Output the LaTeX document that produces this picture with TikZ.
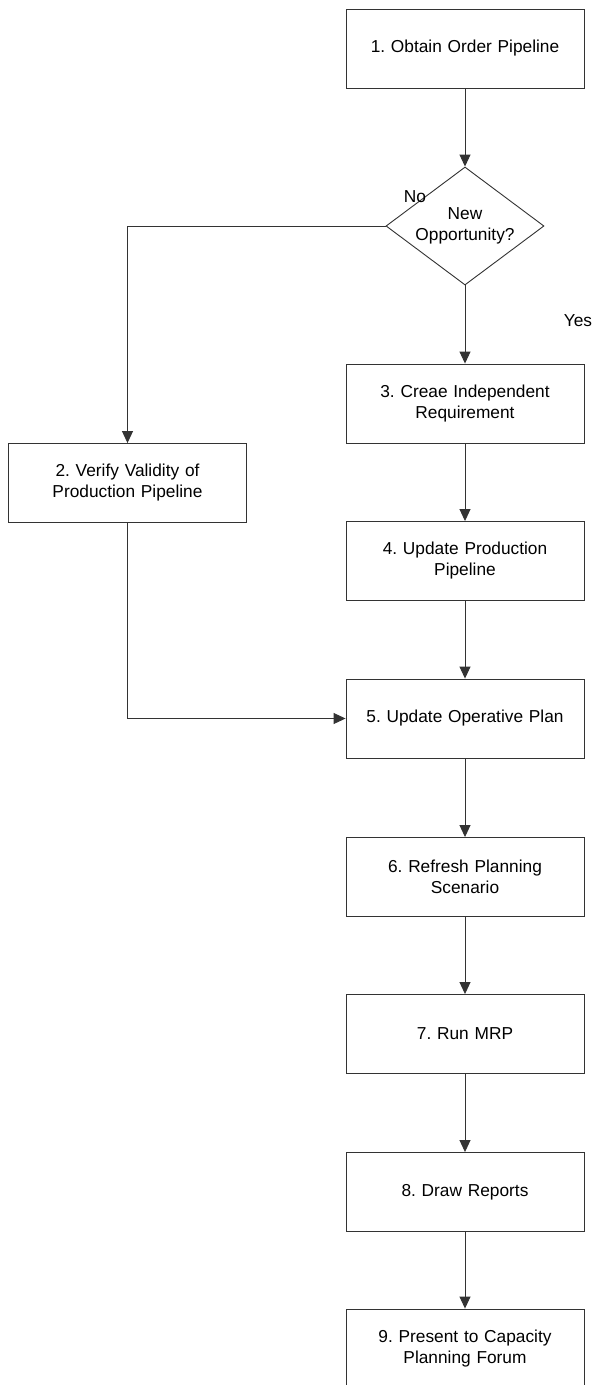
\documentclass[tikz,border=0pt]{standalone}
\usepackage{fontspec}
\setmainfont{Liberation Sans}
\usetikzlibrary{shapes.geometric,arrows.meta}
\frenchspacing
\begin{document}
\begin{tikzpicture}[x=1pt,y=-1pt,
  every node/.style={font=\fontsize{17.3}{21}\selectfont, text=black},
  stepbox/.style={draw=black!80, line width=0.9pt, fill=white,
    minimum width=238pt, minimum height=79pt, inner sep=0pt,
    align=center, text width=230pt},
  decision/.style={draw=black!80, line width=0.9pt, fill=white,
    shape=diamond, shape aspect=1.34, minimum width=158pt,
    minimum height=118pt, inner sep=0pt, align=center},
  link/.style={draw=black!80, line width=0.9pt},
  flow/.style={link, -{Triangle[width=11pt,length=12pt]}},
  tag/.style={inner sep=0pt}]
  \clip (0,0) rectangle (593,1385);
  \fill[white] (0,0) rectangle (593,1385);

  % process steps
  \node[stepbox] (b1) at (465,48.5)  {1. Obtain Order Pipeline};
  \node[decision] (d)  at (465,226)  {New\\Opportunity?};
  \node[stepbox] (b3) at (465,403.5) {3. Creae Independent\\Requirement};
  \node[stepbox] (b2) at (127.5,483) {2. Verify Validity of\\Production Pipeline};
  \node[stepbox] (b4) at (465,561)   {4. Update Production\\Pipeline};
  \node[stepbox] (b5) at (465,718.5) {5. Update Operative Plan};
  \node[stepbox] (b6) at (465,877)   {6. Refresh Planning\\Scenario};
  \node[stepbox] (b7) at (465,1034)  {7. Run MRP};
  \node[stepbox] (b8) at (465,1192)  {8. Draw Reports};
  \node[stepbox] (b9) at (465,1348.5){9. Present to Capacity\\Planning Forum};

  % branch labels
  \node[tag] (no)  at (415,197) {No};
  \node[tag] (yes) at (578,321) {Yes};

  % connectors
  \draw[flow] (b1.south) -- (d.north);
  \draw[flow] (d.south) -- (b3.north);
  \draw[flow] (d.west) -| (b2.north);
  \draw[flow] (b3.south) -- (b4.north);
  \draw[flow] (b4.south) -- (b5.north);
  \draw[flow] (b2.south) |- (b5.west);
  \draw[flow] (b5.south) -- (b6.north);
  \draw[flow] (b6.south) -- (b7.north);
  \draw[flow] (b7.south) -- (b8.north);
  \draw[flow] (b8.south) -- (b9.north);
\end{tikzpicture}
\end{document}
